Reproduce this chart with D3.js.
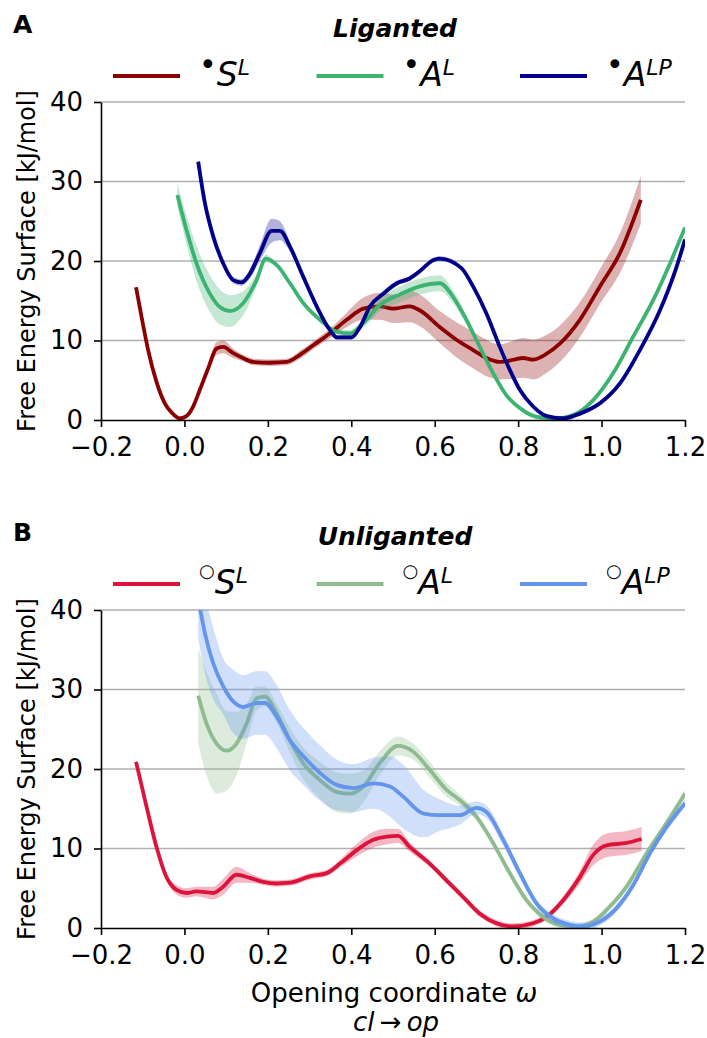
<!DOCTYPE html>
<html>
<head>
<meta charset="utf-8">
<script src="https://cdn.jsdelivr.net/npm/d3@7"></script>
<style>
  body { margin: 0; background: #fff; }
  svg text { font-family: "DejaVu Sans", sans-serif; }
</style>
</head>
<body>
<div id="chart"></div>
<script>
// ---- data ----
const xTicks = [-0.2, 0.0, 0.2, 0.4, 0.6, 0.8, 1.0, 1.2];
const yTicks = [0, 10, 20, 30, 40];

// liganted, S^L
const ligSx = [-0.116, -0.1, -0.087, -0.067, -0.047, -0.03, -0.011, 0.005, 0.02, 0.037, 0.057, 0.077, 0.093, 0.117, 0.14, 0.165, 0.205, 0.245, 0.277, 0.309, 0.349, 0.389, 0.429, 0.469, 0.5, 0.54, 0.564, 0.612, 0.652, 0.692, 0.724, 0.756, 0.79, 0.812, 0.836, 0.864, 0.9, 0.948, 0.996, 1.044, 1.094];
const ligSy = [16.7, 12.2, 8.8, 4.8, 2.1, 0.9, 0.2, 0.5, 1.6, 3.8, 6.5, 9.0, 9.2, 8.4, 7.8, 7.3, 7.2, 7.3, 8.2, 9.4, 10.9, 12.6, 14.0, 14.3, 14.0, 14.3, 13.8, 11.7, 10.1, 8.8, 7.8, 7.3, 7.6, 7.8, 7.6, 8.2, 9.6, 12.6, 16.8, 21.0, 27.7];
const ligSe = [0.3, 0.3, 0.3, 0.3, 0.3, 0.3, 0.3, 0.3, 0.3, 0.3, 0.5, 0.8, 0.8, 0.6, 0.4, 0.4, 0.4, 0.4, 0.5, 0.5, 0.6, 0.9, 1.4, 1.7, 1.8, 2.0, 2.0, 2.0, 2.2, 2.3, 2.3, 2.2, 2.4, 2.5, 2.5, 2.4, 2.3, 2.2, 2.2, 2.5, 3.0];

// liganted, A^L
const ligAx = [-0.017, 0.005, 0.029, 0.061, 0.085, 0.109, 0.141, 0.173, 0.195, 0.221, 0.253, 0.285, 0.325, 0.365, 0.397, 0.429, 0.469, 0.517, 0.564, 0.612, 0.644, 0.676, 0.708, 0.74, 0.772, 0.804, 0.844, 0.892, 0.932, 0.98, 1.028, 1.076, 1.124, 1.164, 1.2];
const ligAy = [28.3, 23.9, 19.7, 15.9, 14.2, 13.7, 14.7, 17.6, 20.3, 19.5, 17.2, 14.7, 12.6, 11.1, 10.9, 12.2, 14.5, 15.8, 16.8, 17.2, 15.5, 12.6, 9.2, 5.9, 3.1, 1.5, 0.4, 0.2, 0.6, 2.5, 5.9, 10.5, 15.1, 19.7, 24.2];
const ligAe = [1.5, 1.8, 2.2, 2.3, 2.2, 2.0, 1.5, 0.8, 0.5, 0.3, 0.3, 0.3, 0.3, 0.3, 0.4, 0.6, 0.8, 1.0, 1.0, 1.0, 0.8, 0.5, 0.3, 0.3, 0.3, 0.3, 0.3, 0.3, 0.3, 0.3, 0.3, 0.3, 0.3, 0.3, 0.3];

// liganted, A^LP
const ligPx = [0.033, 0.049, 0.069, 0.093, 0.117, 0.137, 0.157, 0.181, 0.209, 0.229, 0.253, 0.285, 0.317, 0.349, 0.365, 0.401, 0.421, 0.445, 0.477, 0.509, 0.54, 0.564, 0.596, 0.612, 0.664, 0.692, 0.724, 0.756, 0.78, 0.804, 0.836, 0.868, 0.908, 0.948, 0.996, 1.044, 1.092, 1.14, 1.18, 1.2];
const ligPy = [32.5, 27.3, 23.1, 19.7, 17.6, 17.3, 18.4, 21.0, 23.8, 23.8, 21.8, 18.0, 14.3, 11.3, 10.4, 10.4, 11.7, 14.3, 15.9, 17.2, 17.8, 18.7, 20.1, 20.3, 19.1, 16.8, 13.4, 9.2, 6.3, 3.8, 1.7, 0.5, 0.2, 0.8, 2.1, 4.6, 8.8, 13.8, 19.3, 22.7];
const ligPe = [0.3, 0.3, 0.3, 0.3, 0.4, 0.4, 0.6, 1.0, 1.5, 1.2, 0.6, 0.3, 0.3, 0.3, 0.3, 0.3, 0.3, 0.3, 0.3, 0.3, 0.3, 0.3, 0.3, 0.3, 0.3, 0.3, 0.3, 0.3, 0.3, 0.3, 0.3, 0.3, 0.3, 0.3, 0.3, 0.3, 0.3, 0.3, 0.3, 0.3];

// unliganted, S^L
const unlSx = [-0.116, -0.091, -0.067, -0.043, -0.019, 0.005, 0.029, 0.069, 0.093, 0.125, 0.157, 0.189, 0.221, 0.253, 0.301, 0.341, 0.373, 0.413, 0.453, 0.485, 0.512, 0.54, 0.588, 0.628, 0.668, 0.708, 0.748, 0.788, 0.836, 0.868, 0.908, 0.948, 0.98, 1.012, 1.06, 1.096];
const unlSy = [20.9, 15.3, 10.2, 6.4, 4.8, 4.4, 4.6, 4.4, 5.2, 6.7, 6.3, 5.8, 5.6, 5.7, 6.5, 6.9, 8.1, 9.8, 11.1, 11.5, 11.6, 10.2, 8.1, 6.0, 3.9, 1.8, 0.6, 0.2, 0.6, 1.4, 3.5, 6.4, 9.2, 10.4, 10.7, 11.2];
const unlSe = [0.4, 0.4, 0.4, 0.4, 0.6, 0.6, 0.6, 0.8, 1.0, 1.0, 0.6, 0.4, 0.4, 0.4, 0.4, 0.4, 0.5, 0.8, 1.0, 1.0, 0.9, 0.6, 0.4, 0.4, 0.4, 0.4, 0.4, 0.4, 0.4, 0.4, 0.5, 0.8, 1.3, 1.5, 1.5, 1.5];

// unliganted, A^L
const unlAx = [0.033, 0.053, 0.077, 0.101, 0.125, 0.149, 0.173, 0.193, 0.221, 0.253, 0.285, 0.325, 0.365, 0.397, 0.429, 0.469, 0.512, 0.548, 0.588, 0.628, 0.66, 0.7, 0.74, 0.78, 0.82, 0.86, 0.9, 0.94, 0.98, 1.02, 1.06, 1.108, 1.156, 1.2];
const unlAy = [29.2, 25.7, 23.2, 22.3, 23.2, 25.7, 28.9, 29.1, 27.0, 23.6, 20.7, 18.6, 17.1, 16.9, 17.8, 20.8, 22.9, 22.2, 19.9, 17.4, 16.1, 14.0, 10.7, 6.9, 3.5, 1.4, 0.4, 0.2, 0.8, 2.7, 5.2, 9.4, 13.2, 16.9];
const unlAe = [6.0, 6.5, 6.3, 5.0, 4.0, 2.5, 1.5, 1.2, 1.2, 1.5, 2.0, 2.3, 2.5, 2.5, 2.0, 1.5, 1.2, 1.0, 1.0, 0.9, 0.7, 0.5, 0.4, 0.4, 0.4, 0.4, 0.4, 0.4, 0.4, 0.4, 0.4, 0.4, 0.5, 0.5];

// unliganted, A^LP
const unlPx = [0.033, 0.049, 0.069, 0.093, 0.117, 0.141, 0.173, 0.193, 0.221, 0.253, 0.285, 0.325, 0.365, 0.405, 0.453, 0.493, 0.525, 0.573, 0.612, 0.66, 0.7, 0.724, 0.764, 0.804, 0.844, 0.884, 0.924, 0.956, 0.996, 1.036, 1.076, 1.116, 1.156, 1.2];
const unlPy = [41.5, 37.1, 33.3, 30.4, 28.5, 27.8, 28.3, 28.3, 26.6, 23.6, 21.6, 19.5, 18.0, 17.6, 18.2, 17.8, 16.5, 14.4, 14.2, 14.2, 15.1, 14.6, 11.1, 6.9, 3.1, 1.2, 0.4, 0.2, 0.8, 2.5, 5.4, 9.4, 12.7, 15.7];
const unlPe = [5.0, 5.0, 4.5, 3.5, 4.0, 4.0, 4.0, 4.0, 4.0, 3.8, 3.6, 3.5, 3.2, 3.0, 3.2, 3.8, 4.0, 3.0, 2.0, 1.2, 0.8, 0.8, 0.7, 0.6, 0.5, 0.5, 0.5, 0.5, 0.5, 0.5, 0.5, 0.5, 0.5, 0.5];

const panels = [
  { letter: "A", title: "Liganted", mark: "\u2022", markSize: 30, markDy: -11, top: 102, series: [
    { name: "S", sup: "L", color: "#8b0000", x: ligSx, y: ligSy, e: ligSe },
    { name: "A", sup: "L", color: "#3cb371", x: ligAx, y: ligAy, e: ligAe },
    { name: "A", sup: "LP", color: "#00008b", x: ligPx, y: ligPy, e: ligPe }
  ]},
  { letter: "B", title: "Unliganted", mark: "\u25cb", markSize: 18, markDy: -17, top: 610, series: [
    { name: "S", sup: "L", color: "#dc143c", x: unlSx, y: unlSy, e: unlSe },
    { name: "A", sup: "L", color: "#8fbc8f", x: unlAx, y: unlAy, e: unlAe },
    { name: "A", sup: "LP", color: "#6495ed", x: unlPx, y: unlPy, e: unlPe }
  ]}
];

// ---- drawing ----
const W = 707, H = 1038;
const left = 101, right = 685, plotH = 318;

const svg = d3.select("#chart").append("svg")
    .attr("width", W)
    .attr("height", H);

const x = d3.scaleLinear().domain([-0.2, 1.2]).range([left, right]);

panels.forEach((p, pi) => {
    let top = p.top;
    let y = d3.scaleLinear().domain([0, 40]).range([top + plotH, top]);
    let g = svg.append("g");

    g.append("clipPath").attr("id", "clip" + pi)
        .append("rect")
        .attr("x", left).attr("y", top)
        .attr("width", right - left).attr("height", plotH);

    // grid
    g.selectAll(".grid")
        .data(yTicks.filter(d => d > 0))
        .enter().append("line")
        .attr("x1", left).attr("x2", right)
        .attr("y1", d => y(d)).attr("y2", d => y(d))
        .attr("stroke", "#b0b0b0")
        .attr("stroke-width", 1.6);

    let plot = g.append("g").attr("clip-path", "url(#clip" + pi + ")");

    p.series.forEach(s => {
        let pts = s.x.map((v, i) => ({ x: v, y: s.y[i], e: s.e[i] }));
        let area = d3.area()
            .x(d => x(d.x))
            .y0(d => y(d.y - d.e))
            .y1(d => y(d.y + d.e))
            .curve(d3.curveMonotoneX);
        let line = d3.line()
            .x(d => x(d.x))
            .y(d => y(d.y))
            .curve(d3.curveMonotoneX);
        plot.append("path")
            .attr("d", area(pts))
            .attr("fill", s.color)
            .attr("fill-opacity", 0.3);
        plot.append("path")
            .attr("d", line(pts))
            .attr("fill", "none")
            .attr("stroke", s.color)
            .attr("stroke-width", 3.8)
            .attr("stroke-linejoin", "round");
    });

    // axes
    let yAxis = g.append("g")
        .attr("transform", `translate(${left},0)`)
        .call(d3.axisLeft(y).tickValues(yTicks).tickSize(7).tickPadding(11).tickSizeOuter(0));
    let xAxis = g.append("g")
        .attr("transform", `translate(0,${top + plotH})`)
        .call(d3.axisBottom(x).tickValues(xTicks).tickSize(7).tickPadding(11).tickSizeOuter(0)
            .tickFormat(d3.format(".1f")));
    [yAxis, xAxis].forEach(a => {
        a.select(".domain").attr("stroke", "#000").attr("stroke-width", 1.6);
        a.selectAll(".tick line").attr("stroke", "#000").attr("stroke-width", 1.6);
        a.selectAll(".tick text")
            .attr("font-family", "DejaVu Sans")
            .attr("font-size", 26)
            .attr("fill", "#000");
    });

    g.append("text")
        .attr("transform", `translate(35,${top + plotH / 2}) rotate(-90)`)
        .attr("text-anchor", "middle")
        .attr("font-size", 24)
        .text("Free Energy Surface [kJ/mol]");

    // panel letter and title
    g.append("text")
        .attr("x", 13).attr("y", top - 69)
        .attr("font-size", 25)
        .attr("font-weight", "bold")
        .text(p.letter);
    g.append("text")
        .attr("x", 395).attr("y", top - 65)
        .attr("text-anchor", "middle")
        .attr("font-size", 25)
        .attr("font-weight", "bold")
        .attr("font-style", "italic")
        .text(p.title);

    // legend
    let legY = top - 26;
    p.series.forEach((s, i) => {
        let lx = 113 + i * 203.5;
        g.append("line")
            .attr("x1", lx).attr("x2", lx + 67)
            .attr("y1", legY).attr("y2", legY)
            .attr("stroke", s.color)
            .attr("stroke-width", 3.8);
        let t = g.append("text")
            .attr("x", lx + 86).attr("y", top - 16)
            .attr("font-size", 33)
            .attr("font-style", "italic");
        t.append("tspan")
            .attr("font-style", "normal")
            .attr("font-size", p.markSize)
            .attr("dy", p.markDy)
            .text(p.mark);
        t.append("tspan")
            .attr("dy", -p.markDy)
            .text(s.name);
        t.append("tspan")
            .attr("font-size", 22)
            .attr("dy", -11)
            .text(s.sup);
    });
});

// x label under the lower panel
let xl = svg.append("text")
    .attr("x", 394).attr("y", 1002)
    .attr("text-anchor", "middle")
    .attr("font-size", 26);
xl.append("tspan").text("Opening coordinate ");
xl.append("tspan").attr("font-style", "italic").text("\u03c9");

let xl2 = svg.append("text")
    .attr("x", 396).attr("y", 1031)
    .attr("text-anchor", "middle")
    .attr("font-size", 26);
xl2.append("tspan").attr("font-style", "italic").text("cl");
xl2.append("tspan").text("\u2009\u2192\u2009");
xl2.append("tspan").attr("font-style", "italic").text("op");
</script>
</body>
</html>
